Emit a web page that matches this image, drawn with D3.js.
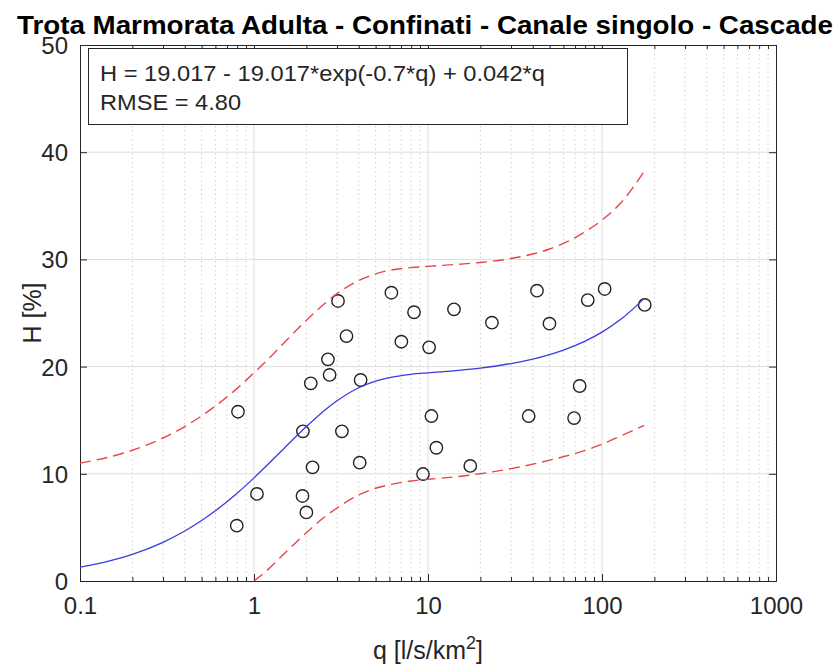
<!DOCTYPE html>
<html>
<head>
<meta charset="utf-8">
<script src="https://cdn.jsdelivr.net/npm/d3@7"></script>
<style>
  html, body { margin: 0; padding: 0; background: #fff; }
  svg { display: block; font-family: "Liberation Sans", Arial, Helvetica, sans-serif; }
</style>
</head>
<body>
<svg id="chart" width="837" height="666"></svg>
<script>
// ---- Data ----
const titleText = "Trota Marmorata Adulta - Confinati - Canale singolo - Cascade";
const xLabelMain = "q [l/s/km";
const yLabelText = "H [%]";
const annotLines = ["H = 19.017 - 19.017*exp(-0.7*q) + 0.042*q", "RMSE = 4.80"];

const xTickValues = [0.1, 1, 10, 100, 1000];
const xTickLabels = ["0.1", "1", "10", "100", "1000"];
const yTickValues = [0, 10, 20, 30, 40, 50];
const yTickLabels = ["0", "10", "20", "30", "40", "50"];

// observed points
const qObs = [6.16, 3.04, 8.31, 3.40, 7.03, 10.15, 2.66, 2.72, 2.12, 4.10, 0.809, 10.46, 1.91, 3.2, 11.17, 2.17, 4.05, 9.36, 1.04, 1.90, 2.0, 0.796, 14.1, 42.3, 23.3, 49.9, 82.8, 103.6, 176, 74.4, 37.9, 69.1, 17.5];
const hObs = [26.89, 26.12, 25.07, 22.85, 22.32, 21.8, 20.68, 19.22, 18.44, 18.75, 15.79, 15.39, 13.96, 13.96, 12.43, 10.6, 11.04, 9.98, 8.12, 7.93, 6.4, 5.16, 25.34, 27.08, 24.1, 24.0, 26.21, 27.24, 25.75, 18.19, 15.39, 15.2, 10.73];

// fitted curve and prediction bounds (sampled)
const qFit = [0.1, 0.15, 0.2, 0.3, 0.4, 0.5, 0.6, 0.8, 1, 1.2, 1.5, 2, 2.5, 3, 4, 5, 6, 8, 10, 15, 20, 30, 40, 50, 60, 80, 100, 130, 175];
const hFit = [1.29, 1.90, 2.49, 3.61, 4.66, 5.64, 6.55, 8.19, 9.62, 10.86, 12.43, 14.41, 15.82, 16.81, 18.03, 18.65, 18.98, 19.28, 19.42, 19.65, 19.86, 20.28, 20.70, 21.12, 21.54, 22.38, 23.22, 24.48, 26.37];
const hUpper = [10.99, 11.60, 12.20, 13.34, 14.41, 15.40, 16.32, 17.97, 19.42, 20.66, 22.28, 24.31, 25.77, 26.81, 28.03, 28.65, 28.98, 29.23, 29.35, 29.55, 29.71, 30.08, 30.50, 30.97, 31.49, 32.58, 33.67, 35.38, 38.22];
const qLow = [1, 1.2, 1.5, 2, 2.5, 3, 4, 5, 6, 8, 10, 15, 20, 30, 40, 50, 60, 80, 100, 130, 175];
const hLower = [0, 1.06, 2.58, 4.51, 5.87, 6.81, 8.03, 8.65, 8.98, 9.33, 9.49, 9.75, 10.01, 10.48, 10.90, 11.27, 11.59, 12.18, 12.77, 13.58, 14.52];

// ---- Layout ----
const svg = d3.select("#chart");
const L = 80, R = 776, T = 45, B = 581;
const x = d3.scaleLog().domain([0.1, 1000]).range([L, R]);
const y = d3.scaleLinear().domain([0, 50]).range([B, T]);
const axisColor = "#262626";

// minor x values
const minorX = [];
[0.1, 1, 10, 100].forEach(d => { for (let k = 2; k <= 9; k++) minorX.push(+(d * k).toPrecision(3)); });

svg.append("defs").append("clipPath").attr("id", "clip")
  .append("rect").attr("x", L).attr("y", T).attr("width", R - L).attr("height", B - T);

// plot background
svg.append("rect").attr("x", L).attr("y", T).attr("width", R - L).attr("height", B - T).attr("fill", "#fff");

// grid
const grid = svg.append("g");
grid.selectAll(".mx").data(minorX).enter().append("line")
  .attr("x1", d => x(d)).attr("x2", d => x(d)).attr("y1", T).attr("y2", B)
  .attr("stroke", "#c8c8c8").attr("stroke-width", 0.8).attr("stroke-dasharray", "1.5,3");
grid.selectAll(".gx").data(xTickValues.slice(1, -1)).enter().append("line")
  .attr("x1", d => x(d)).attr("x2", d => x(d)).attr("y1", T).attr("y2", B)
  .attr("stroke", "#dedede").attr("stroke-width", 1);
grid.selectAll(".gy").data(yTickValues.slice(1, -1)).enter().append("line")
  .attr("x1", L).attr("x2", R).attr("y1", d => y(d)).attr("y2", d => y(d))
  .attr("stroke", "#dedede").attr("stroke-width", 1);

// axes with inward ticks
const axB = d3.axisBottom(x).tickValues(xTickValues).tickFormat((d, i) => xTickLabels[i]).tickSizeInner(-7).tickSizeOuter(0).tickPadding(16);
const gB = svg.append("g").attr("transform", `translate(0,${B})`).call(axB);
const axT = d3.axisTop(x).tickValues(xTickValues).tickFormat("").tickSizeInner(-7).tickSizeOuter(0);
const gT = svg.append("g").attr("transform", `translate(0,${T})`).call(axT);
const axL = d3.axisLeft(y).tickValues(yTickValues).tickFormat((d, i) => yTickLabels[i]).tickSizeInner(-7).tickSizeOuter(0).tickPadding(12);
const gL = svg.append("g").attr("transform", `translate(${L},0)`).call(axL);
const axR = d3.axisRight(y).tickValues(yTickValues).tickFormat("").tickSizeInner(-7).tickSizeOuter(0);
const gR = svg.append("g").attr("transform", `translate(${R},0)`).call(axR);
// minor ticks
const axBm = d3.axisBottom(x).tickValues(minorX).tickFormat("").tickSizeInner(-4).tickSizeOuter(0);
const gBm = svg.append("g").attr("transform", `translate(0,${B})`).call(axBm);
const axTm = d3.axisTop(x).tickValues(minorX).tickFormat("").tickSizeInner(-4).tickSizeOuter(0);
const gTm = svg.append("g").attr("transform", `translate(0,${T})`).call(axTm);

[gB, gT, gL, gR, gBm, gTm].forEach(g => {
  g.select(".domain").attr("stroke", axisColor).attr("stroke-width", 1);
  g.selectAll(".tick line").attr("stroke", axisColor).attr("stroke-width", 1);
  g.selectAll(".tick text").attr("fill", axisColor).attr("font-size", 24)
    .attr("font-family", "'Liberation Sans', Arial, sans-serif");
});
gB.selectAll(".tick text").attr("dy", "0.71em");
gL.selectAll(".tick text").attr("dy", "0.35em");

// data points
const plot = svg.append("g").attr("clip-path", "url(#clip)");
const pts = qObs.map((q, i) => ({ q, h: hObs[i] }));
plot.selectAll(".pt").data(pts).enter().append("circle")
  .attr("cx", d => x(d.q)).attr("cy", d => y(d.h)).attr("r", 6.2)
  .attr("fill", "none").attr("stroke", "#222").attr("stroke-width", 1.4);

// lines
const line = d3.line().x(d => x(d[0])).y(d => y(d[1])).curve(d3.curveMonotoneX);
plot.append("path").datum(qFit.map((q, i) => [q, hFit[i]]))
  .attr("d", line).attr("fill", "none").attr("stroke", "#3a3ae0").attr("stroke-width", 1.3);
plot.append("path").datum(qFit.map((q, i) => [q, hUpper[i]]))
  .attr("d", line).attr("fill", "none").attr("stroke", "#e8454a").attr("stroke-width", 1.4)
  .attr("stroke-dasharray", "11,6");
plot.append("path").datum(qLow.map((q, i) => [q, hLower[i]]))
  .attr("d", line).attr("fill", "none").attr("stroke", "#e8454a").attr("stroke-width", 1.4)
  .attr("stroke-dasharray", "11,6");

// annotation box
svg.append("rect").attr("x", 88.5).attr("y", 48.5).attr("width", 539).attr("height", 76)
  .attr("fill", "#fff").attr("stroke", "#262626").attr("stroke-width", 1);
const annWidths = [445, 141];
svg.selectAll(".ann").data(annotLines).enter().append("text")
  .attr("x", 100).attr("y", (d, i) => 81 + i * 29)
  .attr("font-size", 22).attr("fill", "#262626")
  .attr("textLength", (d, i) => annWidths[i]).attr("lengthAdjust", "spacingAndGlyphs")
  .text(d => d);

// title
svg.append("text").attr("x", 17).attr("y", 34)
  .attr("font-weight", "bold").attr("font-size", 25.5)
  .attr("textLength", 816).attr("lengthAdjust", "spacingAndGlyphs")
  .attr("fill", "#000").text(titleText);

// x label
const xl = svg.append("text").attr("x", (L + R) / 2).attr("y", 659)
  .attr("text-anchor", "middle").attr("font-size", 25).attr("fill", axisColor);
xl.append("tspan").text(xLabelMain);
xl.append("tspan").attr("dy", -10).attr("font-size", 18).text("2");
xl.append("tspan").attr("dy", 10).text("]");

// y label
svg.append("text").attr("transform", `translate(41,${(T + B) / 2}) rotate(-90)`)
  .attr("text-anchor", "middle").attr("font-size", 25).attr("fill", axisColor).text(yLabelText);
</script>
</body>
</html>
